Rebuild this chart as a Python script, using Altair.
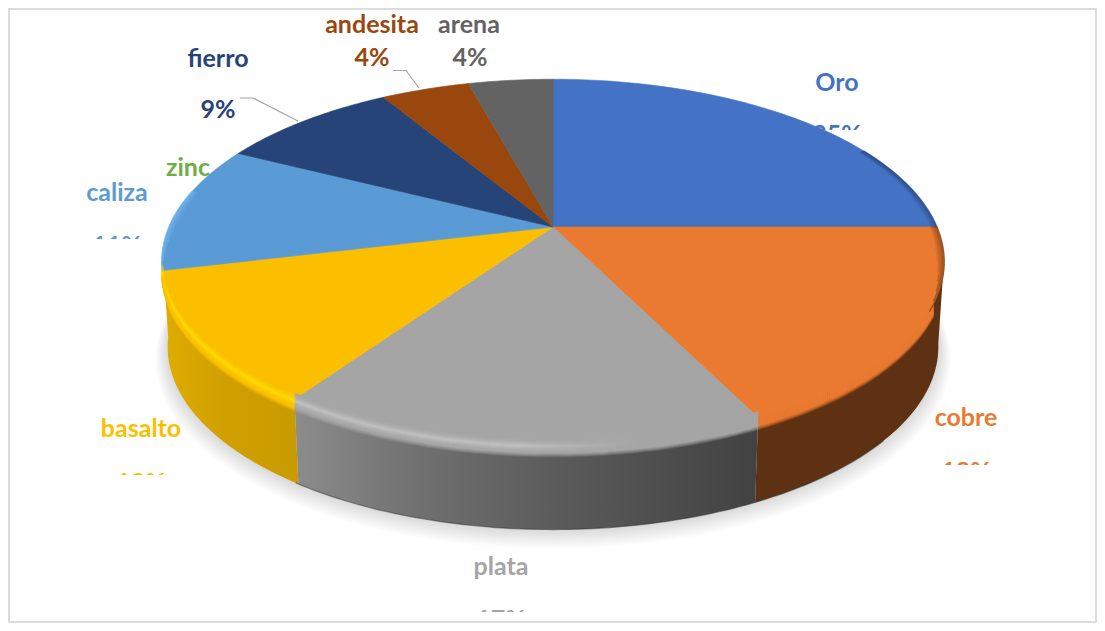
import math
import altair as alt
import pandas as pd

# ---- chart data ----
names = ["Oro", "cobre", "plata", "basalto", "caliza", "zinc", "fierro", "andesita", "arena"]
values = [25.0, 17.7, 16.9, 11.6, 11.3, 0.0, 8.9, 4.4, 4.2]
pct_labels = ["25%", "18%", "17%", "12%", "11%", "", "9%", "4%", "4%"]
colors = ["#4472c4", "#e97a30", "#a5a5a5", "#fbbf00", "#5b9bd5", "#70ad47", "#264478", "#9a470d", "#636363"]

# ---- layout of labels (page px) ----
name_x = [837, 966, 501, 141, 117, 188, 218, 372, 469]
name_y = [83, 418, 567, 429, 193, 168, 59, 25, 25]
pct_x = [837, 966, 501, 141, 117, 188, 218, 372, 470]
pct_y = [135, 472, 620, 483, 246, 0, 110, 58, 58]
mask_top = [130, 465, 612, 475, 239, None, None, None, None]

CX, CY, A, B, K = 553.0, 227.0, 384.0, 176.0, 0.191
DEPTH, SHRINK = 85.0, 0.985
W, H = 1089, 615


def proj(deg, r=1.0):
    t = math.radians(deg)
    u, v = r * math.sin(t), r * math.cos(t)
    d = 1 + K * v
    return CX + A * u / d, CY - B * v / d


def low(deg, grow=1.0, dy=0.0):
    x, y = proj(deg)
    return CX + (x - CX) * SHRINK * grow, CY + (y - CY) * grow + DEPTH + dy


def arange(a, b, step=1.0):
    n = max(2, int(abs(b - a) / step) + 1)
    return [a + (b - a) * i / (n - 1) for i in range(n)]


def mix(c1, c2, p):
    a = [int(c1[i:i + 2], 16) for i in (1, 3, 5)]
    b = [int(c2[i:i + 2], 16) for i in (1, 3, 5)]
    return "#" + "".join(f"{round(x + (y - x) * p):02x}" for x, y in zip(a, b))


xs = alt.Scale(domain=[8, 8 + W], range=[0, W])
ys = alt.Scale(domain=[8, 8 + H], range=[0, H])
X = alt.X("x:Q", scale=xs, axis=None)
Y = alt.Y("y:Q", scale=ys, axis=None)


def path_layer(points, **mark):
    df = pd.DataFrame([{"i": i, "x": p[0], "y": p[1]} for i, p in enumerate(points)])
    return alt.Chart(df).mark_line(interpolate="linear", clip=False, **mark).encode(
        x=X, y=Y, order=alt.Order("i:Q")
    )


def hgrad(stops):
    return alt.Gradient(
        gradient="linear", x1=0, x2=1, y1=0, y2=0,
        stops=[alt.GradientStop(offset=o, color=c) for o, c in stops],
    )


# slice angle ranges
total = sum(values)
cum = 0.0
ranges = []
for v in values:
    a = cum / total * 360
    cum += v
    ranges.append((a, cum / total * 360))

layers = []

font = dict(font="Lato", fontWeight="bold", fontSize=25, align="center", baseline="middle")
labels = pd.DataFrame({
    "name": names, "pct": pct_labels, "c": colors,
    "nx": name_x, "ny": name_y, "px": pct_x, "py": pct_y,
})
labels = labels[labels["pct"] != ""]
color_enc = alt.Color("c:N", scale=None, legend=None)

# percentages, several of them cut off by their label boxes
layers.append(
    alt.Chart(labels).mark_text(**font).encode(
        x=alt.X("px:Q", scale=xs, axis=None), y=alt.Y("py:Q", scale=ys, axis=None),
        text="pct:N", color=color_enc,
    )
)
mask_rows = []
for mx, mt in zip(pct_x, mask_top):
    if mt is not None:
        mask_rows.append({"x": mx - 45, "x2": mx + 45, "y": mt, "y2": mt + 24})
layers.append(
    alt.Chart(pd.DataFrame(mask_rows)).mark_rect(fill="white").encode(
        x=X, x2="x2:Q", y=Y, y2="y2:Q"
    )
)

# frame
frame = pd.DataFrame({"x": [9], "x2": [1096], "y": [9], "y2": [622]})
layers.append(
    alt.Chart(frame).mark_rect(fill="transparent", stroke="#dcdcdc", strokeWidth=2).encode(
        x=X, x2="x2:Q", y=Y, y2="y2:Q"
    )
)

# names
all_names = pd.DataFrame({"name": names, "c": colors, "nx": name_x, "ny": name_y})
layers.append(
    alt.Chart(all_names).mark_text(**font).encode(
        x=alt.X("nx:Q", scale=xs, axis=None), y=alt.Y("ny:Q", scale=ys, axis=None),
        text="name:N", color=color_enc,
    )
)

# leader lines
for pts in ([(240, 98), (253, 98), (298, 121)], [(393, 70.5), (406, 70.5), (419, 88)]):
    layers.append(path_layer(pts, stroke="#a6a6a6", strokeWidth=1.2))

# soft shadow
for k in range(10):
    g = 1.0 + 0.0035 * k
    pts = [low(d, grow=g, dy=1.5 * k * 0.9) for d in arange(0, 360, 2)]
    layers.append(path_layer(pts, fill="#000000", fillOpacity=0.014, strokeOpacity=0, stroke="#000000"))

# side walls
walls = [
    (100.0, ranges[1][1], [(0, "#5f3113"), (1, "#5f3113")]),
    (ranges[1][1], ranges[2][1], [(0, "#8c8c8c"), (0.27, "#707070"), (0.58, "#5a5a5a"), (1, "#424242")]),
    (ranges[2][1], 262.0, [(0, "#dfac00"), (0.45, "#d0a000"), (1, "#ca9b00")]),
]
for t0, t1, stops in walls:
    top = [proj(d) for d in arange(t0, t1)]
    bot = [low(d) for d in arange(t1, t0)]
    pts = top + bot + [top[0]]
    layers.append(path_layer(pts, fill=hgrad(stops), stroke="#000000", strokeOpacity=0, strokeWidth=0))

# dark thin line on the wall's lower edge
layers.append(path_layer([low(d) for d in arange(130, 215)], stroke="#333333", strokeWidth=1.2, strokeOpacity=0.5))


# rounded front edge: the slice colour runs on a few px below the rim and fades into the wall
def fade(dy):
    return 1.0 if dy <= 8 else max(0.0, 1 - (dy - 8) / 5)


bands = [
    (114.0, ranges[1][1], "#e97a30"),
    (ranges[2][0], ranges[2][1], "#a5a5a5"),
    (ranges[3][0], ranges[3][1], "#fbbf00"),
]
for t0, t1, base in bands:
    for dy in range(0, 13):
        pts = [(x, y + dy) for x, y in (proj(d) for d in arange(t0, t1))]
        layers.append(path_layer(pts, stroke=base, strokeWidth=1.6, strokeOpacity=fade(dy), strokeCap="butt"))

# top faces
for (t0, t1), c, v in zip(ranges, colors, values):
    if v <= 0:
        continue
    pts = [(CX, CY)] + [proj(d) for d in arange(t0, t1)] + [(CX, CY)]
    layers.append(path_layer(pts, fill=c, stroke=c, strokeWidth=0.6))

# soft highlight on the front edge of plata and basalto
for t0, t1, base, high, stops_at in (
    (ranges[2][0], ranges[2][1], "#a5a5a5", "#c2c2c2", (0.48, 0.74)),
    (ranges[3][0], ranges[3][1], "#fbbf00", "#ffdc00", None),
):
    for dy in range(-6, 9):
        p = max(0.0, 1 - abs(dy - 2) / 7) ** 1.5
        c = mix(base, high, p)
        stroke = hgrad([(0, c), (stops_at[0], c), (stops_at[1], base), (1, base)]) if stops_at else c
        pts = [(x, y + dy) for x, y in (proj(d) for d in arange(t0, t1))]
        layers.append(path_layer(pts, stroke=stroke, strokeWidth=1.6, strokeOpacity=0.9 if dy > -6 else 0.4, strokeCap="butt"))

# thin shaded rim at the far sides, tapering away at its ends
rims = [
    (62.0, 90.0, "#24406f", 0.55, 0),
    (90.0, 116.0, "#5f3113", 0.6, 3),
    (ranges[4][0], 282.0, "#70b8f5", 0.7, -3),
]
for t0, t1, c, op, taper in rims:
    for k in range(6):
        r = 1.0 - k * 0.0035
        a0 = t0 - min(taper, 0) * k
        a1 = t1 - max(taper, 0) * k
        pts = [proj(d, r) for d in arange(a0, a1)]
        layers.append(path_layer(pts, stroke=c, strokeWidth=1.4, strokeOpacity=op * (1 - k / 6), strokeCap="round"))

chart = (
    alt.layer(*layers)
    .properties(width=W, height=H, padding=0, autosize=alt.AutoSizeParams(type="none"))
    .configure_view(stroke=None)
)
chart.save("out.html", embed_options={"renderer": "svg", "actions": False})
